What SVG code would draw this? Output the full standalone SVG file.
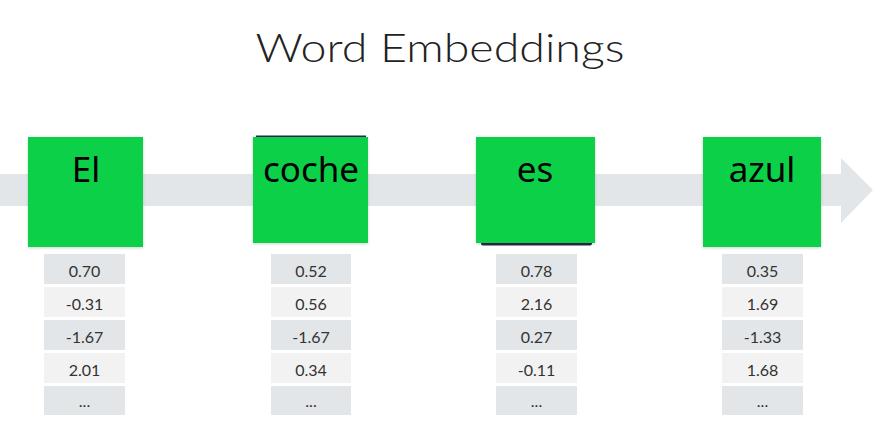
<svg xmlns="http://www.w3.org/2000/svg" width="885" height="440" viewBox="0 0 885 440">
  <defs>
    <filter id="sh" x="-10%" y="-10%" width="120%" height="125%">
      <feDropShadow dx="0" dy="1" stdDeviation="1.5" flood-color="#000" flood-opacity="0.18"/>
    </filter>
  </defs>
  <style>
    .title{font-family:"Lato","Noto Sans",sans-serif;font-weight:300;font-size:40px;fill:#222;}
    .word{font-family:"Noto Sans","Open Sans",sans-serif;font-size:35px;fill:#000;text-anchor:middle;}
    .box{fill:#11d048;filter:url(#sh);}
    .dark{fill:#e3e6e8;}
    .light{fill:#f2f2f2;}
    .num{font-family:"Lato","Noto Sans",sans-serif;font-size:16px;fill:#333;text-anchor:middle;}
  </style>
  <rect width="885" height="440" fill="#fff"/>
  <text class="title" x="440" y="62" text-anchor="middle" textLength="369" lengthAdjust="spacingAndGlyphs">Word Embeddings</text>

  <g id="connectors">
    <path d="M0,174 H841 V158 L873,190 L841,223 V206 H0 Z" fill="#e3e6e8"/>
  </g>

  <g id="node-el">
    <rect class="box" x="28" y="137" width="115" height="110"/>
    <text class="word" x="86" y="182">El</text>
  </g>
  <g id="node-coche">
    <rect x="256" y="135.5" width="110" height="3" fill="#2a2a4a"/>
    <rect class="box" x="253" y="137" width="115" height="106"/>
    <text class="word" x="311" y="182">coche</text>
  </g>
  <g id="node-es">
    <rect x="481" y="241" width="111" height="4.5" rx="2" fill="#2a2a4a"/>
    <rect class="box" x="476" y="137" width="119" height="106"/>
    <text class="word" x="535" y="182">es</text>
  </g>
  <g id="node-azul">
    <rect class="box" x="703" y="137" width="118" height="110"/>
    <text class="word" x="762" y="182">azul</text>
  </g>

  <g id="table-el">
    <rect class="dark" x="44" y="254" width="81" height="30"/>
    <rect class="light" x="44" y="287" width="81" height="30"/>
    <rect class="dark" x="44" y="320" width="81" height="30"/>
    <rect class="light" x="44" y="353" width="81" height="30"/>
    <rect class="dark" x="44" y="386" width="81" height="29"/>
    <text class="num" x="84.5" y="277">0.70</text>
    <text class="num" x="84.5" y="310">-0.31</text>
    <text class="num" x="84.5" y="343">-1.67</text>
    <text class="num" x="84.5" y="376">2.01</text>
    <text class="num" x="84.5" y="407">...</text>
  </g>
  <g id="table-coche">
    <rect class="dark" x="271" y="254" width="80" height="30"/>
    <rect class="light" x="271" y="287" width="80" height="30"/>
    <rect class="dark" x="271" y="320" width="80" height="30"/>
    <rect class="light" x="271" y="353" width="80" height="30"/>
    <rect class="dark" x="271" y="386" width="80" height="29"/>
    <text class="num" x="311" y="277">0.52</text>
    <text class="num" x="311" y="310">0.56</text>
    <text class="num" x="311" y="343">-1.67</text>
    <text class="num" x="311" y="376">0.34</text>
    <text class="num" x="311" y="407">...</text>
  </g>
  <g id="table-es">
    <rect class="dark" x="496" y="254" width="81" height="30"/>
    <rect class="light" x="496" y="287" width="81" height="30"/>
    <rect class="dark" x="496" y="320" width="81" height="30"/>
    <rect class="light" x="496" y="353" width="81" height="30"/>
    <rect class="dark" x="496" y="386" width="81" height="29"/>
    <text class="num" x="536.5" y="277">0.78</text>
    <text class="num" x="536.5" y="310">2.16</text>
    <text class="num" x="536.5" y="343">0.27</text>
    <text class="num" x="536.5" y="376">-0.11</text>
    <text class="num" x="536.5" y="407">...</text>
  </g>
  <g id="table-azul">
    <rect class="dark" x="722" y="254" width="81" height="30"/>
    <rect class="light" x="722" y="287" width="81" height="30"/>
    <rect class="dark" x="722" y="320" width="81" height="30"/>
    <rect class="light" x="722" y="353" width="81" height="30"/>
    <rect class="dark" x="722" y="386" width="81" height="29"/>
    <text class="num" x="762.5" y="277">0.35</text>
    <text class="num" x="762.5" y="310">1.69</text>
    <text class="num" x="762.5" y="343">-1.33</text>
    <text class="num" x="762.5" y="376">1.68</text>
    <text class="num" x="762.5" y="407">...</text>
  </g>
</svg>
